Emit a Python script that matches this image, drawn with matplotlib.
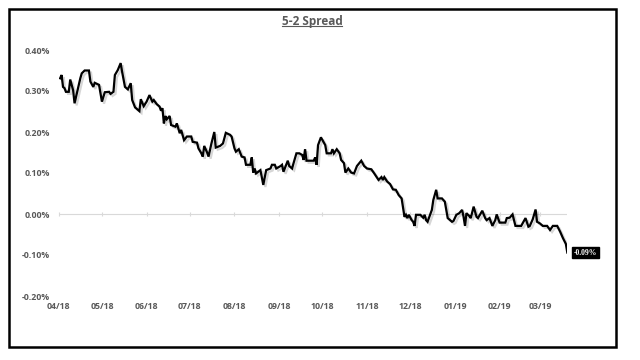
import numpy as np
import pandas as pd
import matplotlib
matplotlib.use("Agg")
import matplotlib.pyplot as plt
import matplotlib.dates as mdates
import matplotlib.patheffects as pe
from matplotlib.patches import Rectangle
from matplotlib.lines import Line2D
from matplotlib.ticker import FuncFormatter

# ---------------- data ----------------
title = "5-2 Spread"
start_date = "2018-04-01"
end_day = 353  # axis end, days after start_date
day_offsets = [
    1, 2, 3, 4, 5, 7, 8, 10, 11, 15, 16, 18, 21, 22, 24, 25, 28, 29, 30, 32,
    35, 36, 38, 39, 41, 43, 44, 46, 48, 50, 51, 53, 56, 57, 59, 61, 63, 65, 66, 68,
    70, 71, 72, 73, 74, 75, 77, 78, 81, 82, 84, 85, 87, 89, 92, 93, 96, 97, 99, 100,
    101, 103, 104, 106, 108, 109, 112, 114, 115, 116, 119, 120, 122, 123, 125, 127, 129, 130, 133, 134,
    135, 136, 137, 140, 142, 144, 147, 148, 150, 151, 154, 155, 156, 159, 160, 162, 163, 165, 167, 169,
    170, 171, 172, 177, 178, 179, 180, 182, 185, 186, 189, 190, 191, 193, 195, 196, 198, 199, 201, 203,
    205, 207, 210, 212, 214, 217, 219, 222, 224, 225, 226, 228, 230, 232, 234, 236, 238, 240, 241, 242,
    243, 245, 246, 247, 248, 251, 253, 254, 255, 256, 259, 260, 262, 263, 266, 268, 270, 273, 274, 276,
    278, 280, 281, 282, 283, 285, 286, 288, 290, 291, 294, 296, 297, 299, 301, 303, 304, 306, 310, 311,
    313, 315, 317, 321, 324, 326, 327, 329, 331, 332, 334, 336, 339, 341, 343, 346, 348, 350, 352, 353,
]
spread_pct = [
    0.331, 0.339, 0.310, 0.307, 0.298, 0.298, 0.328, 0.302, 0.270, 0.331, 0.343, 0.350, 0.350, 0.323, 0.310, 0.320, 0.315, 0.294, 0.274, 0.297,
    0.298, 0.293, 0.298, 0.339, 0.351, 0.368, 0.347, 0.310, 0.304, 0.319, 0.278, 0.260, 0.251, 0.280, 0.263, 0.274, 0.290, 0.274, 0.278, 0.268,
    0.262, 0.252, 0.258, 0.221, 0.239, 0.231, 0.239, 0.217, 0.213, 0.221, 0.197, 0.205, 0.180, 0.189, 0.189, 0.176, 0.174, 0.160, 0.148, 0.140,
    0.166, 0.150, 0.140, 0.172, 0.200, 0.162, 0.166, 0.172, 0.185, 0.198, 0.193, 0.189, 0.160, 0.152, 0.158, 0.140, 0.138, 0.120, 0.120, 0.138,
    0.101, 0.111, 0.099, 0.107, 0.071, 0.107, 0.111, 0.120, 0.120, 0.111, 0.117, 0.120, 0.103, 0.130, 0.117, 0.111, 0.124, 0.148, 0.148, 0.144,
    0.132, 0.158, 0.130, 0.130, 0.138, 0.120, 0.168, 0.187, 0.168, 0.148, 0.148, 0.158, 0.148, 0.158, 0.148, 0.132, 0.124, 0.101, 0.111, 0.101,
    0.099, 0.117, 0.130, 0.117, 0.111, 0.109, 0.099, 0.083, 0.090, 0.083, 0.090, 0.079, 0.073, 0.060, 0.059, 0.046, 0.038, -0.007, -0.002, -0.010,
    -0.002, -0.015, -0.019, -0.029, -0.002, -0.002, -0.009, -0.002, -0.015, -0.019, 0.010, 0.034, 0.059, 0.038, 0.038, 0.030, -0.010, -0.019, -0.017, -0.002,
    0.002, 0.010, -0.007, -0.029, 0.002, -0.005, -0.010, 0.018, -0.007, -0.010, 0.008, -0.010, -0.015, -0.010, -0.029, -0.015, -0.001, -0.021, -0.021, -0.010,
    -0.009, -0.001, -0.029, -0.029, -0.010, -0.031, -0.029, -0.013, 0.011, -0.019, -0.023, -0.029, -0.029, -0.039, -0.029, -0.029, -0.043, -0.059, -0.073, -0.094,
]
y_ticks = [-0.20, -0.10, 0.00, 0.10, 0.20, 0.30, 0.40]

# ---------------- style ----------------
FONT = "Open Sans"
GRAY = "#595959"

t0 = pd.Timestamp(start_date)
dates = t0 + pd.to_timedelta(day_offsets, unit="D")

fig = plt.figure(figsize=(6.4, 3.6), dpi=100)
fig.patch.set_facecolor("white")

ax = fig.add_axes([58.7 / 640, 1 - 296 / 360, (567.3 - 58.7) / 640, (296 - 50) / 360])
ax.set_facecolor("white")

ax.plot(dates, spread_pct, color="black", lw=1.6, solid_joinstyle="miter",
        path_effects=[pe.SimpleLineShadow(offset=(1.5, -1.5), shadow_color="black", alpha=0.16),
                      pe.Normal()], zorder=3)

ax.axhline(0, color="#D9D9D9", lw=0.8, zorder=1)

ax.set_xlim(t0, t0 + pd.Timedelta(days=end_day))
ax.set_ylim(y_ticks[0], y_ticks[-1])
ax.set_yticks(y_ticks)
ax.yaxis.set_major_formatter(FuncFormatter(lambda v, p: f"{v:.2f}%"))
ax.xaxis.set_major_locator(mdates.MonthLocator())
ax.xaxis.set_major_formatter(mdates.DateFormatter("%m/%y"))

for s in ax.spines.values():
    s.set_visible(False)
ax.tick_params(axis="both", length=0, labelsize=6.3, labelcolor=GRAY)
ax.tick_params(axis="y", pad=6)
ax.tick_params(axis="x", pad=4)
for lbl in ax.get_xticklabels() + ax.get_yticklabels():
    lbl.set_fontfamily(FONT)
    lbl.set_fontweight("bold")

# small tick marks on the zero line
sec = ax.secondary_xaxis(1 / 3)
sec.spines["bottom"].set_visible(False)
sec.spines["top"].set_visible(False)
sec.xaxis.set_major_locator(mdates.MonthLocator())
sec.tick_params(axis="x", direction="inout", length=3, color="#D9D9D9", labelbottom=False, labeltop=False,
                width=0.8)
sec.set_xticklabels([])

# end label
ax.annotate(f"{spread_pct[-1]:.2f}%", xy=(dates[-1], spread_pct[-1]), xytext=(4.5, 0),
            textcoords="offset points", ha="left", va="center", fontsize=5.5,
            family="Liberation Serif", fontweight="bold", color="white",
            bbox=dict(boxstyle="square,pad=0.25", fc="black", ec="black"), zorder=5,
            annotation_clip=False)

# title with underline
ttl = fig.text(312 / 640, 1 - 22 / 360, title, ha="center", va="center", fontsize=8.5,
               fontweight="bold", family=FONT, color=GRAY)
fig.canvas.draw()
bb = ttl.get_window_extent(renderer=fig.canvas.get_renderer())
inv = fig.transFigure.inverted()
(x0, y0), (x1, y1) = inv.transform([(bb.x0, bb.y0 + 2.5), (bb.x1, bb.y0 + 2.5)])
fig.add_artist(Line2D([x0, x1], [y0, y1], transform=fig.transFigure, color=GRAY, lw=0.8))

# outer frame
fig.add_artist(Rectangle((8.5 / 640, 1 - 347 / 360), (616 - 8.5) / 640, (347 - 9) / 360,
                         transform=fig.transFigure, fill=False, ec="black", lw=1.8))

fig.savefig("out.png", dpi=100, facecolor="white")
